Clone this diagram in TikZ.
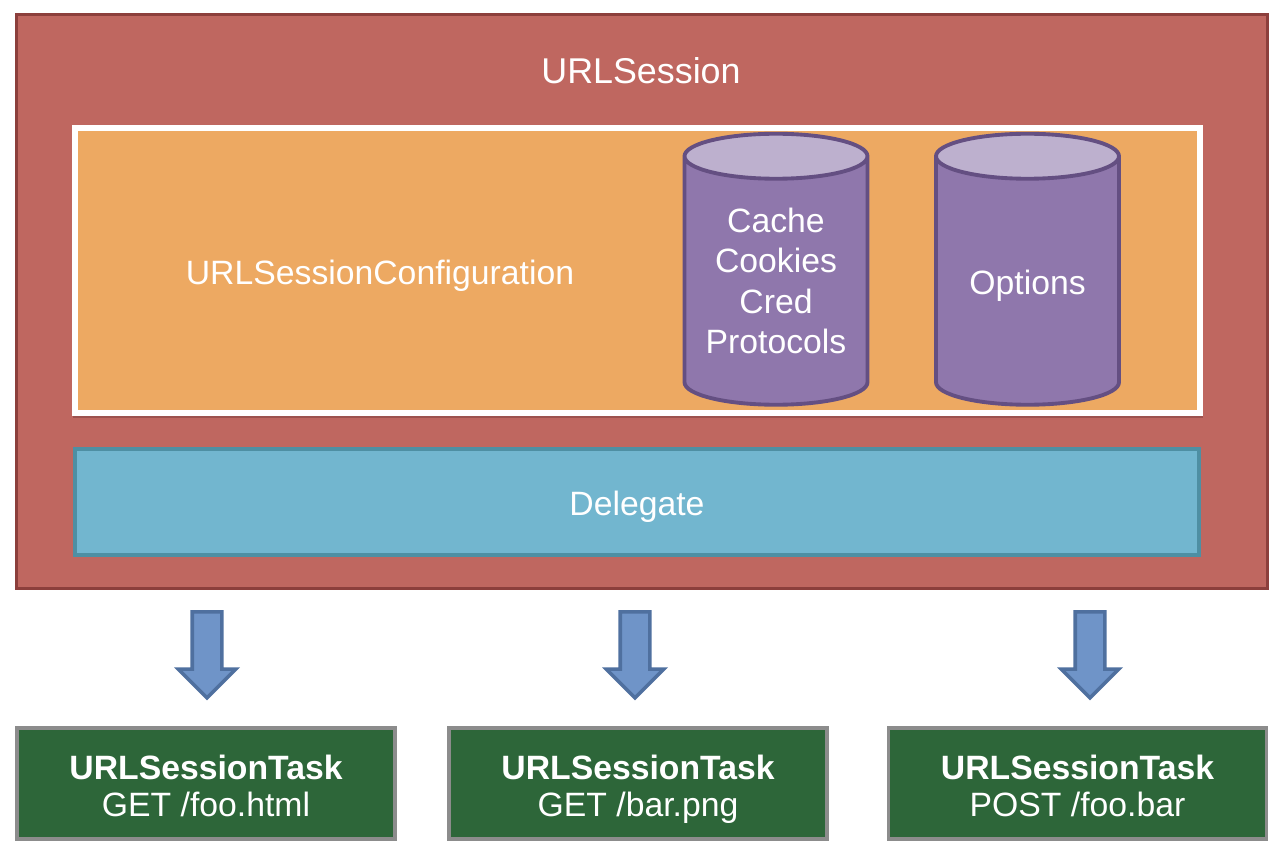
\documentclass[tikz,border=0pt]{standalone}
\usepackage{fontspec}
\setmainfont{Liberation Sans}
\usetikzlibrary{shapes.geometric,shapes.arrows}
\definecolor{sessionred}{HTML}{BF6760}
\definecolor{sessionline}{HTML}{8C3F3C}
\definecolor{configshade}{HTML}{9C524E}
\definecolor{configorange}{HTML}{EDA962}
\definecolor{storebody}{HTML}{8F77AC}
\definecolor{storetop}{HTML}{BDB0CE}
\definecolor{storeline}{HTML}{644F82}
\definecolor{delegateteal}{HTML}{72B6CF}
\definecolor{delegateline}{HTML}{4E8FA3}
\definecolor{taskgreen}{HTML}{2D6639}
\definecolor{taskline}{HTML}{8C8C8C}
\definecolor{arrowblue}{HTML}{6F94C8}
\definecolor{arrowline}{HTML}{4F709F}
\newcommand{\taskhead}{\rule{0pt}{.8cm}\textbf{URLSessionTask}}
\tikzset{
  whitetext/.style={text=white,font=\fontsize{19.2}{23}\selectfont,align=center},
  store/.style={cylinder,shape border rotate=90,shape aspect=.45,draw=storeline,line width=2.2pt,
    cylinder uses custom fill,cylinder body fill=storebody,cylinder end fill=storetop,
    minimum width=3.66cm,minimum height=5.42cm,inner sep=1cm},
  taskbox/.style={draw=taskline,line width=2.2pt,fill=taskgreen,minimum width=7.56cm,minimum height=2.22cm,
    whitetext,font=\fontsize{19.2}{21}\selectfont},
  downarrow/.style={single arrow,shape border rotate=270,draw=arrowline,line width=2pt,fill=arrowblue,
    minimum height=1.72cm,inner sep=.26cm,single arrow head extend=.28cm,single arrow tip angle=90},
}
\begin{document}
\begin{tikzpicture}
    \useasboundingbox (0,0) rectangle (25.6,17.06);
    \node[draw=sessionline,line width=1.7pt,fill=sessionred,minimum width=25.02cm,minimum height=11.48cm] (session) at (12.84,11.03) {};
    \node[whitetext,font=\fontsize{20.4}{24}\selectfont] (sessionlabel) at (12.82,15.64) {URLSession};

    \node[fill=configshade,minimum width=22.6cm,minimum height=5.8cm] (configshadow) at (12.75,11.59) {};
    \node[draw=white,line width=3.4pt,fill=configorange,minimum width=22.5cm,minimum height=5.7cm] (config) at (12.75,11.65) {};
    \node[whitetext] (configlabel) at (7.6,11.54) {URLSessionConfiguration};

    \node[store] (cache) at (15.52,11.23) {};
    \node[store] (options) at (20.55,11.23) {};
    \node[whitetext] (cachelabel) at (15.52,11.44) {Cache\\Cookies\\Cred\\Protocols};
    \node[whitetext] (optionslabel) at (20.55,11.34) {Options};

    \node[draw=delegateline,line width=2.2pt,fill=delegateteal,minimum width=22.48cm,minimum height=2.12cm,whitetext,text height=.69cm,text depth=.15cm] (delegate) at (12.74,7.02) {Delegate};

    \node[downarrow] (arrowa) at (4.14,4.11) {};
    \node[downarrow] (arrowb) at (12.7,4.11) {};
    \node[downarrow] (arrowc) at (21.8,4.11) {};

    \node[taskbox] (taska) at (4.12,1.39) {\taskhead\\GET /foo.html\strut};
    \node[taskbox] (taskb) at (12.76,1.39) {\taskhead\\GET /bar.png\strut};
    \node[taskbox] (taskc) at (21.55,1.39) {\taskhead\\POST /foo.bar\strut};
\end{tikzpicture}
\end{document}
